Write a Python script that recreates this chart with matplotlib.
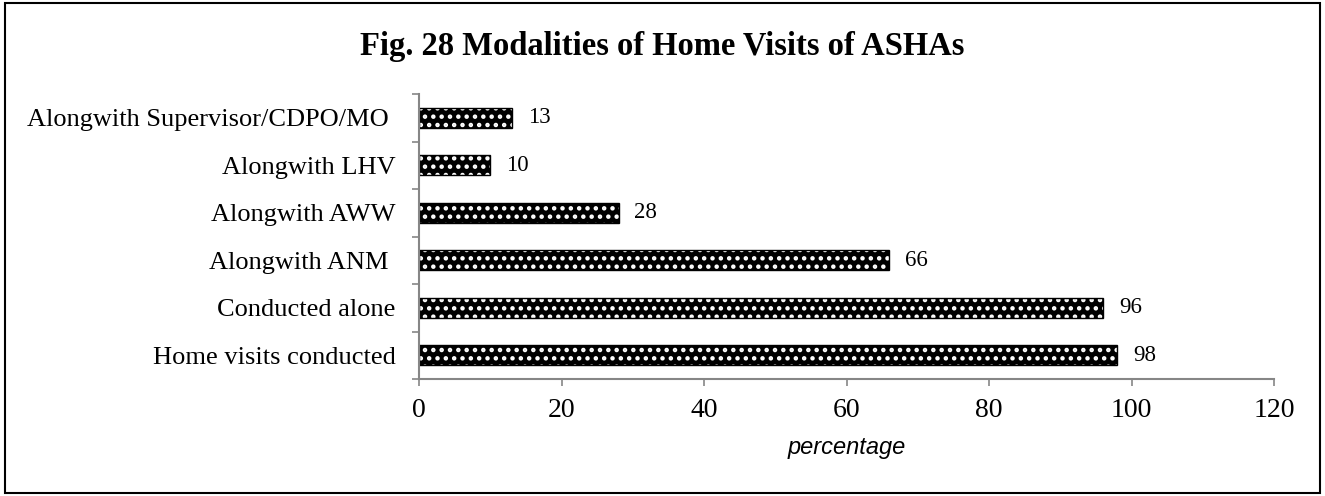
import matplotlib
matplotlib.use('Agg')
import matplotlib.pyplot as plt
from matplotlib.patches import Rectangle

categories = ['Home visits conducted', 'Conducted alone', 'Alongwith ANM ',
              'Alongwith AWW', 'Alongwith LHV', 'Alongwith Supervisor/CDPO/MO ']
values = [98, 96, 66, 28, 10, 13]
xticks = [0, 20, 40, 60, 80, 100, 120]

plt.rcParams['font.family'] = 'Liberation Serif'
plt.rcParams['hatch.linewidth'] = 2.0

fig = plt.figure(figsize=(13.25, 4.96), dpi=100)
ax = fig.add_axes([419 / 1325, 1 - 379 / 496, 855 / 1325, 285 / 496])

pos = range(len(categories))
ax.barh(pos, values, height=0.42, color='black', edgecolor='white',
        hatch='..', linewidth=0)
ax.barh(pos, values, height=0.42, fill=False, edgecolor='black', linewidth=1)

for y, v in zip(pos, values):
    ax.annotate(str(v), (v, y), xytext=(11.5, 0), textcoords='offset points',
                va='center', ha='left', fontsize=16.5)

ax.set_xlim(0, 120)
ax.set_ylim(-0.5, len(categories) - 0.5)
ax.set_xticks(xticks)
ax.set_yticks([p - 0.5 for p in range(len(categories) + 1)], minor=False)
ax.set_yticklabels([])
ax.set_yticks(list(pos), minor=True)
ax.set_yticklabels(categories, minor=True, fontsize=19)
ax.tick_params(axis='y', which='major', length=5, color='#868686', width=1.2)
ax.tick_params(axis='y', which='minor', length=0, pad=17)
ax.tick_params(axis='x', length=5, color='#868686', width=1.2, labelsize=20, pad=9)

for s in ['top', 'right']:
    ax.spines[s].set_visible(False)
for s in ['left', 'bottom']:
    ax.spines[s].set_color('#868686')
    ax.spines[s].set_linewidth(1.5)

ax.set_xlabel('percentage', fontstyle='italic', family='Liberation Sans',
              fontsize=17, labelpad=9)

fig.suptitle('Fig. 28 Modalities of Home Visits of ASHAs', fontweight='bold',
             fontsize=23.5, y=1 - 46 / 496, va='center')

fig.patches.append(Rectangle((5 / 1325, 3 / 496), 1315 / 1325, 490 / 496,
                             transform=fig.transFigure, fill=False,
                             edgecolor='black', linewidth=1.5))

fig.savefig('out.png', dpi=100)
